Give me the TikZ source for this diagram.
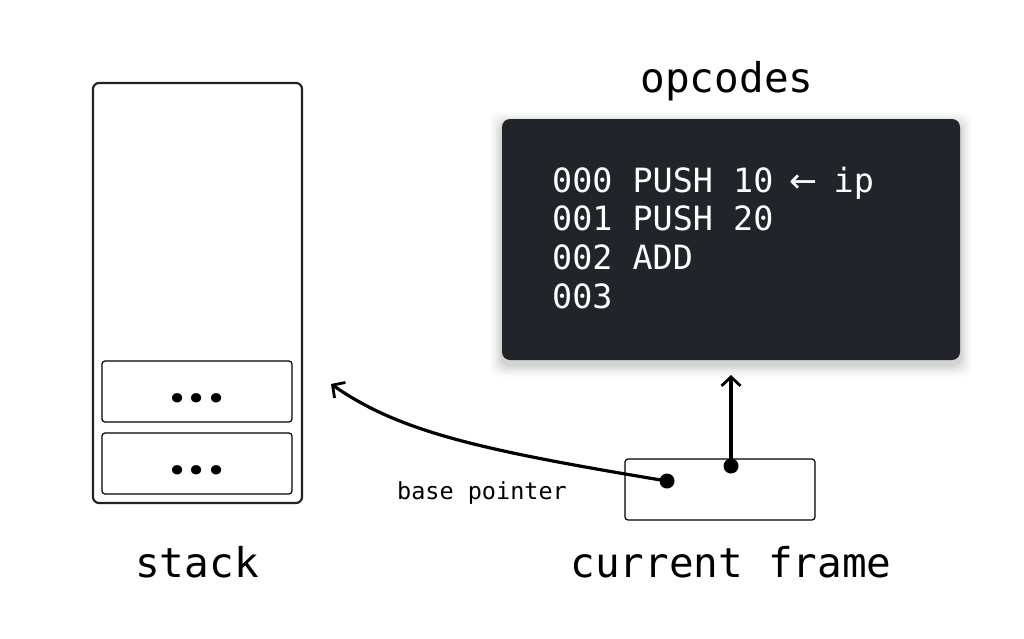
\documentclass[tikz,border=0pt]{standalone}
\usepackage{fontspec}
\setmonofont{DejaVu Sans Mono}
\newfontfamily\arrowfont{DejaVu Sans}
\newfontfamily\dotfont{Poppins}
\usetikzlibrary{arrows.meta}
\definecolor{ink}{HTML}{1E2229}
\definecolor{panel}{HTML}{212429}
\tikzset{
  mono/.style={font=\ttfamily, inner sep=0pt},
  bigl/.style={mono, font=\ttfamily\fontsize{41}{48}\selectfont, anchor=base},
  code/.style={mono, font=\ttfamily\fontsize{33.4}{40}\selectfont, anchor=base west, text=white},
  cell/.style={draw=black, line width=1.2pt, rounded corners=3pt},
  ptr/.style={line width=3.2pt, -{Straight Barb[length=9pt,width=19pt,line width=2.8pt]}},
  dotmark/.style={circle, fill=black, inner sep=0pt, minimum size=15pt},
  ellip/.style={inner sep=0pt, font=\dotfont\bfseries\fontsize{50}{54}\selectfont, anchor=base},
}
\newcommand{\spdots}{.\kern5pt.\kern5pt.}
\newcommand{\codearrow}{\makebox[0.602em][c]{\arrowfont ←}}
\begin{document}
\begin{tikzpicture}[x=1pt,y=-1pt]
\useasboundingbox (0,0) rectangle (1024,638);
% stack
\draw[draw=ink, line width=2.2pt, rounded corners=6pt] (93,83) rectangle (302,503);
\draw[cell] (102,361) rectangle (292,422);
\draw[cell] (102,433) rectangle (292,494);
\node[ellip] (d1) at (197,402) {\spdots};
\node[ellip] (d2) at (197,474) {\spdots};
\node[bigl] (stacklbl) at (197,577) {stack};
% opcodes panel with soft shadow
\foreach \i/\o in {12/0.015,10/0.02,8/0.025,6/0.03,4/0.04,2/0.05}{
  \fill[black, opacity=\o, rounded corners=10pt] (502-\i,119-\i+5) rectangle (960+\i,360+\i+5);
}
\fill[panel, rounded corners=8pt] (502,119) rectangle (960,360);
\node[bigl] (oplbl) at (727,92) {opcodes};
\node[code] (l0) at (552,192) {000 PUSH 10 \codearrow{} ip};
\node[code] (l1) at (552,230) {001 PUSH 20};
\node[code] (l2) at (552,269) {002 ADD};
\node[code] (l3) at (552,308) {003};
% current frame
\draw[cell] (625,459) rectangle (815,520);
\node[bigl] (cflbl) at (731,577) {current frame};
\node[dotmark] (bp) at (667,481) {};
\node[dotmark] (ip) at (731,466) {};
\coordinate (bptarget) at (331,384);
\coordinate (iptarget) at (731,375);
\draw[ptr] (ip.center) -- (iptarget);
\draw[ptr] (bp.center) .. controls (480,450) and (400,432) .. (bptarget);
\node[mono, font=\ttfamily\fontsize{23.5}{28}\selectfont, anchor=base] (bplbl) at (482,499) {base pointer};
\end{tikzpicture}
\end{document}
